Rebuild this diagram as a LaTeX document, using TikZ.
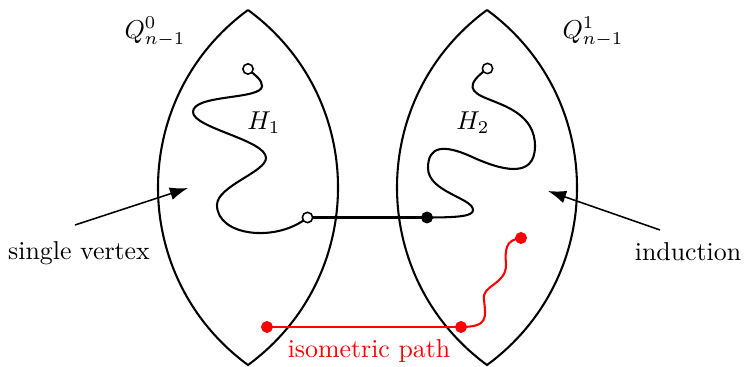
\documentclass[tikz,border=0pt]{standalone}
\usetikzlibrary{arrows.meta, positioning}

\begin{document}
\begin{tikzpicture}[x=0.0136cm,y=-0.0136cm, lens/.style={thick,black}, walk/.style={thick,black}, red walk/.style={thick,red}, ov/.style={circle,draw,fill=white,inner sep=0pt,minimum size=4pt,semithick}, fv/.style={circle,draw,fill,inner sep=0pt,minimum size=4.2pt}, arr/.style={-{Latex[length=7pt,width=5pt]},line width=0.6pt}]
  \useasboundingbox (0,0) rectangle (744,367);
  % the two subcubes
  \draw[lens] (248,10) .. controls (128,98) and (128,277) .. (248,365) .. controls (368,277) and (368,98) .. (248,10);
  \draw[lens] (487,10) .. controls (367,98) and (367,277) .. (487,365) .. controls (607,277) and (607,98) .. (487,10);
  \node at (155,32){$Q^0_{n-1}$};
  \node at (593,32){$Q^1_{n-1}$};
  % vertices
  \coordinate (a1) at (248,69);
  \coordinate (a2) at (307.5,217.5);
  \coordinate (b1) at (427,217.5);
  \coordinate (b2) at (487.5,68.5);
  \coordinate (r1) at (267,327);
  \coordinate (r2) at (461,327);
  \coordinate (r3) at (521,238);
  % hamiltonian paths
  \draw[walk] (a1) .. controls (256,76) and (262,80) .. (262,86) .. controls (262,100) and (193,94) .. (193,112) .. controls (193,128) and (266,140) .. (266,158) .. controls (266,172) and (217,186) .. (217,205) .. controls (217,236) and (276,243) .. (a2);
  \draw[walk] (a2)--(b1);
  \draw[walk] (b1) .. controls (460,217.5) and (473,216) .. (473,210) .. controls (473,198) and (428,192) .. (428,168) .. controls (428,145) and (445,145) .. (470,156) .. controls (500,170) and (535,180) .. (535,146) .. controls (535,115) and (505,106) .. (488,99) .. controls (470,92) and (465,85) .. (b2);
  \draw[red walk] (r1)--(r2);
  \draw[red walk] (r2) .. controls (488,327) and (486,318) .. (484,300) .. controls (481,285) and (506,285) .. (506,265) .. controls (505,250) and (505,240) .. (r3);
  \node[ov] (v1) at (a1){};
  \node[ov] (v2) at (a2){};
  \node[fv] (v3) at (b1){};
  \node[ov] (v4) at (b2){};
  \node[fv,red] (v5) at (r1){};
  \node[ov,red] (v6) at (r2){};
  \node[fv,red] (v7) at (r3){};
  \node at (264,123){$H_1$};
  \node at (473,123){$H_2$};
  % labels
  \node (sv) at (79,253){single vertex};
  \node (ind) at (688,252){induction};
  \coordinate (sv0) at (75,225);
  \coordinate (sv1) at (188,188);
  \coordinate (in0) at (660,230);
  \coordinate (in1) at (548,191);
  \draw[arr] (sv0)--(sv1);
  \draw[arr] (in0)--(in1);
  \node[red] (iso) at (369,351){isometric path};
\end{tikzpicture}
\end{document}
